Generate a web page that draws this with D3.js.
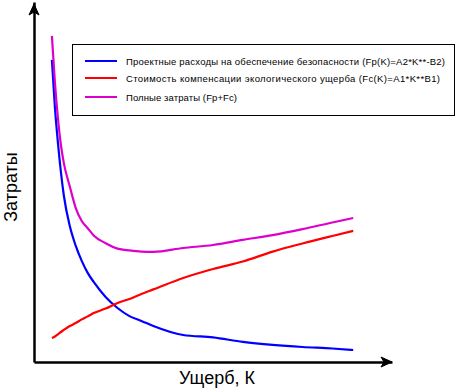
<!DOCTYPE html>
<html>
<head>
<meta charset="utf-8">
<script src="https://cdn.jsdelivr.net/npm/d3@7"></script>
<style>
html,body{margin:0;padding:0;background:#fff;}
svg{display:block;}
</style>
</head>
<body>
<svg id="chart" width="462" height="390"></svg>
<script>
// Damage K (sample points)
const damageK = [0.6, 0.7, 0.8, 0.9, 1.0, 1.2, 1.4, 1.6, 1.8, 2.0, 2.4, 2.8, 3.2, 3.6, 4.0, 5, 6, 7, 8, 9, 10, 10.7];
// Protection costs Fp(K)
const fpValues = [100.7, 85, 73.3, 63.5, 55.5, 45.3, 38.7, 33.7, 29.7, 26.7, 21.7, 18, 15.3, 13.7, 12, 9, 8.2, 6.7, 5.7, 5, 4.5, 4];
// Ecological damage compensation Fc(K)
const fcValues = [8, 8.5, 9.2, 10, 10.7, 12, 13, 14.2, 15.2, 16.3, 17.8, 19.7, 21, 22.7, 24.2, 28, 31, 33.5, 36.8, 39.5, 42, 43.7];
// Total costs Fp+Fc
const totalValues = [108.7, 93.3, 81.5, 72.5, 66.3, 58.5, 51.3, 47, 44.6, 42.2, 39.6, 37.8, 37.2, 36.8, 36.7, 38, 39, 40.7, 42.3, 44.3, 46.5, 48];

const seriesNames = [
  "Проектные расходы на обеспечение безопасности (Fp(K)=A2*K**-B2)",
  "Стоимость компенсации экологического ущерба (Fc(K)=A1*K**B1)",
  "Полные затраты (Fp+Fc)"
];
const seriesColors = ["#0000ff", "#ff0000", "#dd00cc"];
const xLabel = "Ущерб, К";
const yLabel = "Затраты";

const svg = d3.select("#chart");
const x = d3.scaleLinear().domain([0, 12]).range([34, 392]);
const y = d3.scaleLinear().domain([0, 120]).range([362, 2]);

const series = [fpValues, fcValues, totalValues];
const line = d3.line().curve(d3.curveMonotoneX).x((d, i) => x(damageK[i])).y(d => y(d));

series.forEach((vals, si) => {
  svg.append("path")
    .datum(vals)
    .attr("d", line)
    .attr("fill", "none")
    .attr("stroke", seriesColors[si])
    .attr("stroke-width", 2.2);
});

// Axes (no ticks)
const xAxis = svg.append("g").attr("transform", `translate(0,${y(0)})`)
  .call(d3.axisBottom(x).ticks(0).tickSizeOuter(0));
const yAxis = svg.append("g").attr("transform", `translate(${x(0)},0)`)
  .call(d3.axisLeft(y).ticks(0).tickSizeOuter(0));
[xAxis, yAxis].forEach(g => g.select(".domain").attr("stroke", "#000").attr("stroke-width", 2.5));

// Arrow heads
const x0 = x(0), y0 = y(0), xEnd = x.range()[1], yTop = y.range()[1] + 2;
svg.append("path")
  .attr("d", `M${x0},${yTop} L${x0 - 5},${yTop + 11} L${x0},${yTop + 8} L${x0 + 5},${yTop + 11} Z`)
  .attr("fill", "#000").attr("stroke", "#000").attr("stroke-width", 1);
svg.append("path")
  .attr("d", `M${xEnd},${y0} L${xEnd - 11},${y0 - 5} L${xEnd - 8},${y0} L${xEnd - 11},${y0 + 5} Z`)
  .attr("fill", "#000").attr("stroke", "#000").attr("stroke-width", 1);

// Legend
const lg = svg.append("g");
lg.append("rect").attr("x", 72.5).attr("y", 44.5).attr("width", 382).attr("height", 71)
  .attr("fill", "#fff").attr("stroke", "#000").attr("stroke-width", 1);
const legendY = [61, 78, 97];
const legendW = [319, 314, 111];
seriesNames.forEach((name, i) => {
  lg.append("line").attr("x1", 85).attr("x2", 117).attr("y1", legendY[i]).attr("y2", legendY[i])
    .attr("stroke", seriesColors[i]).attr("stroke-width", 2);
  lg.append("text").attr("x", 126).attr("y", legendY[i] + 3.5)
    .attr("font-family", "Liberation Sans, Arial, sans-serif").attr("font-size", 9.5)
    .attr("textLength", legendW[i]).attr("lengthAdjust", "spacing")
    .attr("fill", "#000").text(name);
});

// Axis titles
svg.append("text").attr("x", 217).attr("y", 384).attr("text-anchor", "middle")
  .attr("font-family", "Liberation Sans, Arial, sans-serif").attr("font-size", 18)
  .attr("fill", "#000").text(xLabel);
svg.append("text").attr("transform", "translate(17,187) rotate(-90)").attr("text-anchor", "middle")
  .attr("font-family", "Liberation Sans, Arial, sans-serif").attr("font-size", 18)
  .attr("fill", "#000").text(yLabel);
</script>
</body>
</html>
